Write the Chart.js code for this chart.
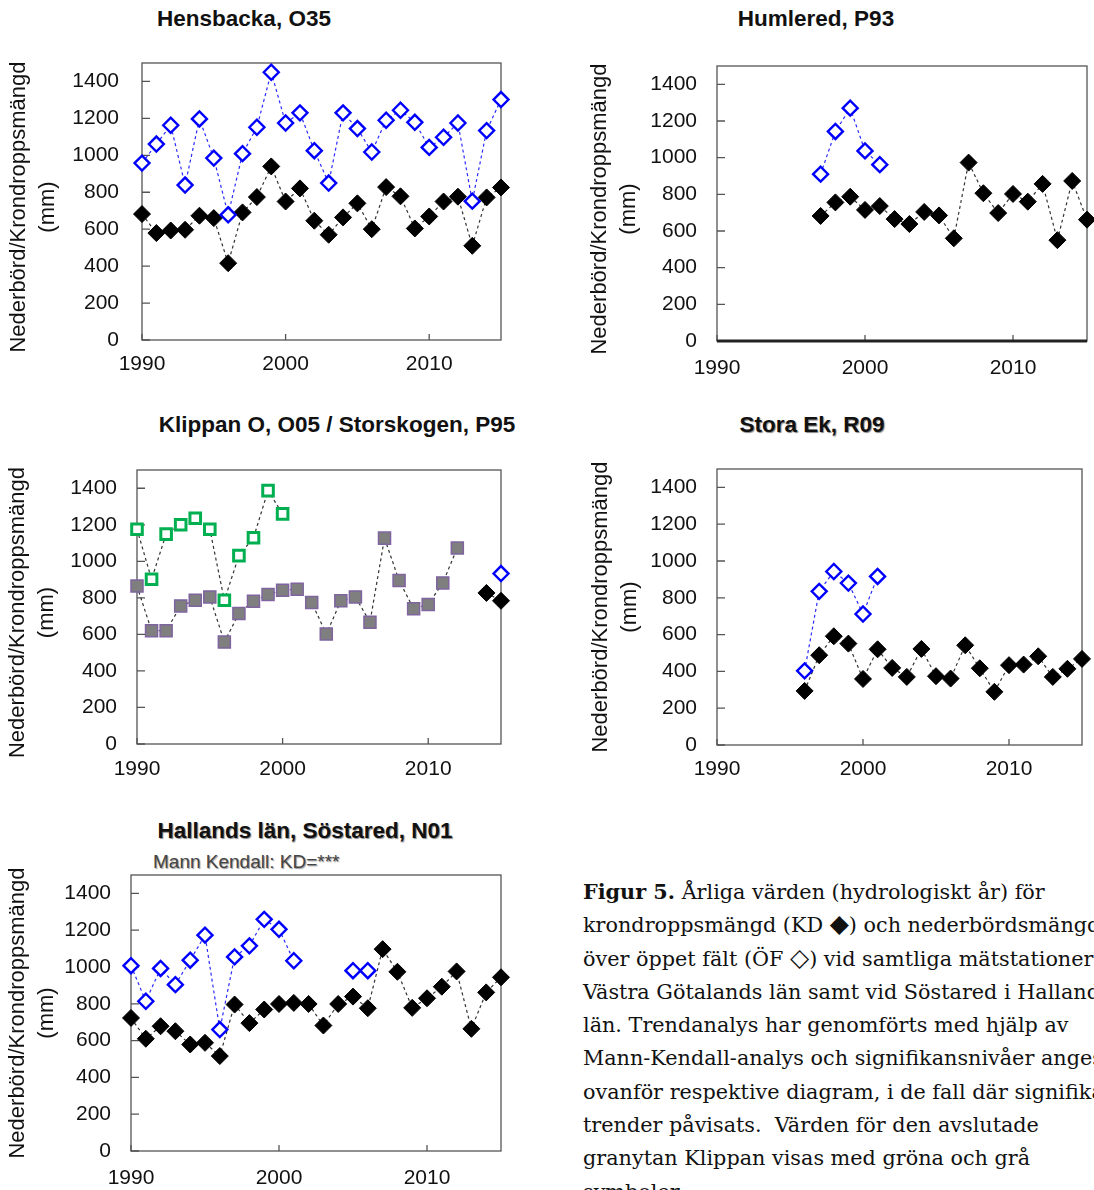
<!DOCTYPE html>
<html><head><meta charset="utf-8">
<script src="https://cdn.jsdelivr.net/npm/chart.js@4.4.1/dist/chart.umd.min.js"></script>
<style>
html,body{margin:0;padding:0;background:#fff;}
body{width:1094px;height:1190px;overflow:hidden;position:relative;font-family:"Liberation Sans",Arial,sans-serif;}
canvas{position:absolute;}
.ttl{position:absolute;transform:translate(-50%,-50%);font-weight:bold;font-size:22.5px;white-space:nowrap;color:#111;}
.shadow{text-shadow:1px 1px 1px #888;}
.sub{position:absolute;font-size:19px;white-space:nowrap;color:#444;text-shadow:1px 1px 1px #999;transform:translateY(-50%);}
.cap{position:absolute;left:583px;top:876px;font-family:"DejaVu Serif",Georgia,serif;font-size:20.75px;line-height:33.3px;white-space:nowrap;color:#111;}
.sym{font-size:1.2em;line-height:0;}
</style>
</head><body>
<div class="ttl" style="left:244px;top:19px">Hensbacka, O35</div>
<div class="ttl" style="left:816px;top:19px">Humlered, P93</div>
<div class="ttl" style="left:337px;top:425px">Klippan O, O05 / Storskogen, P95</div>
<div class="ttl shadow" style="left:812px;top:425px">Stora Ek, R09</div>
<div class="ttl shadow" style="left:305px;top:831px">Hallands län, Söstared, N01</div>
<div class="sub" style="left:153px;top:862px">Mann Kendall: KD=***</div>
<div class="cap"><b>Figur 5.</b> Årliga värden (hydrologiskt år) för<br>krondroppsmängd (KD <span class="sym">◆</span>) och nederbördsmängd<br>över öppet fält (ÖF <span class="sym">◇</span>) vid samtliga mätstationer i<br>Västra Götalands län samt vid Söstared i Hallands<br>län. Trendanalys har genomförts med hjälp av<br>Mann-Kendall-analys och signifikansnivåer anges<br>ovanför respektive diagram, i de fall där signifikanta<br>trender påvisats.&nbsp; Värden för den avslutade<br>granytan Klippan visas med gröna och grå<br>symboler.</div>
<script>
// ---- tick labels / axis text ----
const xTickValues = [1990, 2000, 2010];
const yTickValues = [0, 200, 400, 600, 800, 1000, 1200, 1400];
const yAxisTitle = ['Nederbörd/Krondroppsmängd', '(mm)'];

// ---- Hensbacka, O35 ----
const hensYears = [1990,1991,1992,1993,1994,1995,1996,1997,1998,1999,2000,2001,2002,2003,2004,2005,2006,2007,2008,2009,2010,2011,2012,2013,2014,2015];
const hensKD = [682,579,593,597,673,660,416,691,774,940,750,821,646,570,664,740,600,828,778,604,669,750,776,510,772,826];
const hensOF = [958,1061,1163,839,1197,985,678,1009,1152,1450,1175,1230,1025,850,1230,1145,1018,1190,1244,1179,1043,1098,1175,752,1134,1302];

// ---- Humlered, P93 ----
const humKDYears = [1997,1998,1999,2000,2001,2002,2003,2004,2005,2006,2007,2008,2009,2010,2011,2012,2013,2014,2015];
const humKD = [682,756,787,715,736,665,638,704,685,560,973,806,698,802,760,857,550,873,662];
const humOFYears = [1997,1998,1999,2000,2001];
const humOF = [910,1143,1270,1037,962];

// ---- Klippan O, O05 / Storskogen, P95 ----
const klipGrayYears = [1990,1991,1992,1993,1994,1995,1996,1997,1998,1999,2000,2001,2002,2003,2004,2005,2006,2007,2008,2009,2010,2011,2012];
const klipGray = [865,620,620,756,787,805,558,715,782,818,842,847,775,602,784,805,667,1127,895,740,764,882,1073];
const klipGreenYears = [1990,1991,1992,1993,1994,1995,1996,1997,1998,1999,2000];
const klipGreen = [1176,902,1149,1200,1236,1176,787,1031,1129,1387,1260];
const storKDYears = [2014,2015];
const storKD = [827,784];
const storOFYears = [2015];
const storOF = [933];

// ---- Stora Ek, R09 ----
const ekKDYears = [1996,1997,1998,1999,2000,2001,2002,2003,2004,2005,2006,2007,2008,2009,2010,2011,2012,2013,2014,2015];
const ekKD = [294,488,591,551,359,520,419,370,522,374,361,542,417,289,434,437,482,370,414,468];
const ekOFYears = [1996,1997,1998,1999,2000,2001];
const ekOF = [403,835,943,880,712,916];

// ---- Hallands län, Söstared, N01 ----
const sosYears = [1990,1991,1992,1993,1994,1995,1996,1997,1998,1999,2000,2001,2002,2003,2004,2005,2006,2007,2008,2009,2010,2011,2012,2013,2014,2015];
const sosKD = [723,610,678,651,579,588,516,796,695,769,799,805,799,682,799,839,776,1097,974,778,830,893,976,664,862,944];
const sosOFYears = [1990,1991,1992,1993,1994,1995,1996,1997,1998,1999,2000,2001,2002,2003,2004,2005,2006];
const sosOF = [1007,814,992,904,1037,1173,660,1055,1115,1259,1205,1034,null,null,null,980,980];

function pts(years, vals){ return years.map((yr,i)=>({x:yr, y:vals[i]})); }

const STY = {
  kd:{borderColor:'#333',borderDash:[3,3],borderWidth:1.2,pointStyle:'rectRot',pointRadius:8.5,pointBackgroundColor:'#000',pointBorderColor:'#000',pointBorderWidth:1},
  of:{borderColor:'#2a2aff',borderDash:[3,3],borderWidth:1.2,pointStyle:'rectRot',pointRadius:7.5,pointBackgroundColor:'#fff',pointBorderColor:'#0000ff',pointBorderWidth:2.4},
  green:{borderColor:'#333',borderDash:[3,3],borderWidth:1.2,pointStyle:'rect',pointRadius:7.5,pointBackgroundColor:'#fff',pointBorderColor:'#00b050',pointBorderWidth:3},
  gray:{borderColor:'#333',borderDash:[3,3],borderWidth:1.2,pointStyle:'rect',pointRadius:8.5,pointBackgroundColor:'#7f7f7f',pointBorderColor:'#7f64a0',pointBorderWidth:1.5}
};
function ds(style, years, vals){
  return Object.assign({data:pts(years, vals), fill:false, spanGaps:false, tension:0, clip:false}, STY[style]);
}

const framePlugin = {
  id:'frame',
  beforeDatasetsDraw(chart, args, opts){
    const {ctx, chartArea:a, scales} = chart;
    ctx.save();
    ctx.strokeStyle = '#555'; ctx.lineWidth = 1.3;
    ctx.strokeRect(a.left, a.top, a.right - a.left, a.bottom - a.top);
    ctx.beginPath();
    yTickValues.forEach(v=>{ const py = scales.y.getPixelForValue(v); ctx.moveTo(a.left, py); ctx.lineTo(a.left + 8, py); });
    xTickValues.forEach(v=>{ const px = scales.x.getPixelForValue(v); ctx.moveTo(px, a.bottom); ctx.lineTo(px, a.bottom - 6); });
    ctx.stroke();
    if (opts.thickBottom){
      ctx.strokeStyle = '#222'; ctx.lineWidth = 3;
      ctx.beginPath(); ctx.moveTo(a.left, a.bottom); ctx.lineTo(a.right, a.bottom); ctx.stroke();
    }
    ctx.restore();
  }
};

const FONT = 'Liberation Sans';
const TICK_SIZE = 21;
function makePanel(p, datasets){
  const PADR = 12;
  const PADT = Math.ceil(TICK_SIZE * 0.6 + p.yPad) + 1;
  const c = document.createElement('canvas');
  const w = p.R - p.cx + PADR, h = p.B - p.T + PADT + p.xH;
  c.width = w; c.height = h;
  c.style.left = p.cx + 'px'; c.style.top = (p.T - PADT) + 'px';
  c.style.width = w + 'px'; c.style.height = h + 'px';
  document.body.appendChild(c);
  // trailing en-space nudges the rotated title slightly downward where the reference sits lower
  const titleText = p.tShift ? yAxisTitle.map(t => t + '\u2002') : yAxisTitle;
  new Chart(c, {
    type:'line',
    data:{datasets},
    plugins:[framePlugin],
    options:{
      responsive:false, maintainAspectRatio:false, animation:false, devicePixelRatio:1,
      layout:{padding:{top:PADT, right:PADR, left:0, bottom:0}},
      plugins:{legend:{display:false}, tooltip:{enabled:false}, frame:{thickBottom:!!p.thick}},
      scales:{
        x:{type:'linear', min:1990, max:2015,
           afterFit:s=>{ s.height = p.xH; },
           afterBuildTicks:s=>{ s.ticks = xTickValues.map(v=>({value:v})); },
           grid:{display:false, drawTicks:false}, border:{display:false},
           ticks:{padding:p.xPad, color:'#111', font:{size:TICK_SIZE, family:FONT}, maxRotation:0, autoSkip:false, callback:v=>String(v)}},
        y:{type:'linear', min:0, max:1500,
           afterFit:s=>{ s.width = p.L - p.cx; },
           afterBuildTicks:s=>{ s.ticks = yTickValues.map(v=>({value:v})); },
           grid:{display:false, drawTicks:false}, border:{display:false},
           ticks:{padding:p.yPad, color:'#111', font:{size:TICK_SIZE, family:FONT}, autoSkip:false, callback:v=>String(v)},
           title:{display:true, text:titleText, color:'#111', font:{size:22, family:FONT, lineHeight:1.32}, padding:{top:p.tPad, bottom:0}}}
      }
    }
  });
}

makePanel({cx:0, L:142, R:501, T:63, B:340, xH:45, xPad:12, yPad:23, tPad:4.5, tShift:true},
  [ds('of', hensYears, hensOF), ds('kd', hensYears, hensKD)]);
makePanel({cx:580, L:717, R:1087, T:66, B:341, xH:45, xPad:15, yPad:20, tPad:5.5, thick:true, tShift:true},
  [ds('of', humOFYears, humOF), ds('kd', humKDYears, humKD)]);
makePanel({cx:0, L:137, R:501, T:470, B:744, xH:46, xPad:13, yPad:20, tPad:3.5, tShift:true},
  [ds('of', storOFYears, storOF), ds('kd', storKDYears, storKD), ds('green', klipGreenYears, klipGreen), ds('gray', klipGrayYears, klipGray)]);
makePanel({cx:580, L:717, R:1082, T:469, B:745, xH:45, xPad:12, yPad:20, tPad:6},
  [ds('of', ekOFYears, ekOF), ds('kd', ekKDYears, ekKD)]);
makePanel({cx:0, L:131, R:501, T:875, B:1151, xH:39, xPad:15, yPad:20, tPad:3.5},
  [ds('of', sosOFYears, sosOF), ds('kd', sosYears, sosKD)]);
</script>
</body></html>
